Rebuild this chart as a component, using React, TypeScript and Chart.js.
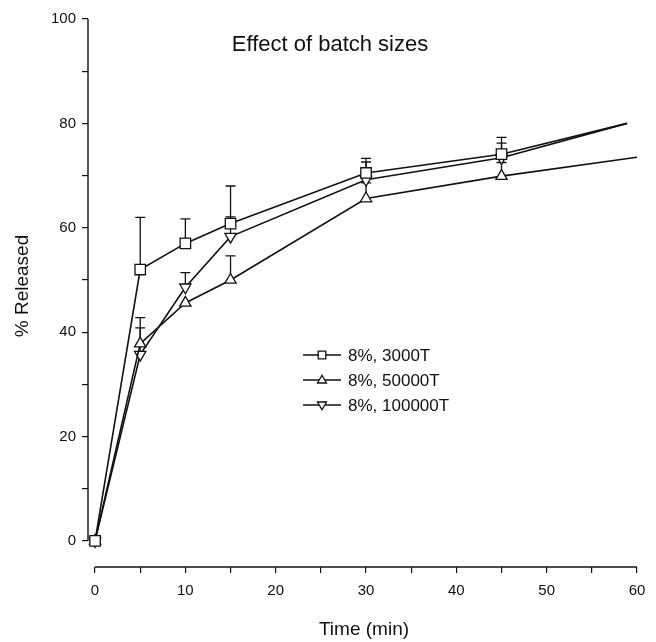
import React, { useEffect, useRef } from 'react';
import { Chart, registerables } from 'chart.js';

Chart.register(...registerables);

// ---- data ----
const chartTitle = 'Effect of batch sizes';
const xAxisTitle = 'Time (min)';
const yAxisTitle = '% Released';

const seriesNames = ['8%, 3000T', '8%, 50000T', '8%, 100000T'];

const s1Time = [0, 5, 10, 15, 30, 45, 58.9];
const s1Value = [0, 52.0, 57.0, 60.8, 70.5, 74.1, 80.0];
const s1Err = [0, 10.0, 4.7, 7.2, 2.8, 3.2, 0];

const s2Time = [0, 5, 10, 15, 30, 45, 60];
const s2Value = [0, 37.8, 45.6, 50.0, 65.6, 69.9, 73.5];
const s2Err = [0, 5.0, 0, 4.6, 3.0, 2.6, 0];

const s3Time = [0, 5, 10, 15, 30, 45, 58.9];
const s3Value = [0, 35.7, 48.6, 58.3, 69.2, 73.4, 80.0];
const s3Err = [0, 5.1, 2.8, 3.8, 3.4, 2.8, 0];

const xTicks = [0, 5, 10, 15, 20, 25, 30, 35, 40, 45, 50, 55, 60];
const yTicks = [0, 10, 20, 30, 40, 50, 60, 70, 80, 90, 100];

const FONT = "'Liberation Sans', Arial, Helvetica, sans-serif";
const INK = '#111';

const W = 656;
const H = 642;

const toPoints = (xs: number[], ys: number[]) => xs.map((x, i) => ({ x, y: ys[i] }));
const markerRadius = (n: number, r: number) => Array.from({ length: n }, (_, i) => (i === n - 1 ? 0 : r));

function drawMarker(ctx: CanvasRenderingContext2D, kind: string, x: number, y: number, s: number) {
  ctx.beginPath();
  if (kind === 'rect') {
    ctx.rect(x - s, y - s, 2 * s, 2 * s);
  } else if (kind === 'up') {
    ctx.moveTo(x, y - s * 1.1);
    ctx.lineTo(x + s * 1.05, y + s * 0.7);
    ctx.lineTo(x - s * 1.05, y + s * 0.7);
    ctx.closePath();
  } else {
    ctx.moveTo(x, y + s * 1.1);
    ctx.lineTo(x + s * 1.05, y - s * 0.7);
    ctx.lineTo(x - s * 1.05, y - s * 0.7);
    ctx.closePath();
  }
  ctx.fillStyle = '#fff';
  ctx.fill();
  ctx.strokeStyle = INK;
  ctx.lineWidth = 1.3;
  ctx.stroke();
}

const errorBarPlugin = {
  id: 'errorBars',
  beforeDatasetsDraw(chart: any) {
    const { ctx } = chart;
    const xs = chart.scales.x;
    const ys = chart.scales.y;
    const errs = [s1Err, s2Err, s3Err];
    ctx.save();
    ctx.strokeStyle = INK;
    ctx.lineWidth = 1.3;
    chart.data.datasets.forEach((ds: any, i: number) => {
      ds.data.forEach((p: any, j: number) => {
        const e = errs[i][j];
        if (!e) return;
        const px = xs.getPixelForValue(p.x);
        const y0 = ys.getPixelForValue(p.y);
        const y1 = ys.getPixelForValue(p.y + e);
        ctx.beginPath();
        ctx.moveTo(px, y0);
        ctx.lineTo(px, y1);
        ctx.moveTo(px - 5, y1);
        ctx.lineTo(px + 5, y1);
        ctx.stroke();
      });
    });
    ctx.restore();
  },
};

const decorPlugin = {
  id: 'decor',
  afterDraw(chart: any) {
    const { ctx, chartArea } = chart;
    const xs = chart.scales.x;
    const ys = chart.scales.y;
    ctx.save();
    // axis lines (offset, SigmaPlot style)
    ctx.strokeStyle = INK;
    ctx.lineWidth = 1.4;
    ctx.beginPath();
    ctx.moveTo(chartArea.left, ys.getPixelForValue(0));
    ctx.lineTo(chartArea.left, ys.getPixelForValue(100));
    ctx.moveTo(xs.getPixelForValue(0), chartArea.bottom);
    ctx.lineTo(xs.getPixelForValue(60), chartArea.bottom);
    ctx.stroke();

    // title
    ctx.fillStyle = INK;
    ctx.font = `22px ${FONT}`;
    ctx.textAlign = 'center';
    ctx.textBaseline = 'middle';
    ctx.fillText(chartTitle, 330, 45);

    // x axis title
    ctx.font = `19px ${FONT}`;
    ctx.fillText(xAxisTitle, 364, 630);

    // y axis title
    ctx.save();
    ctx.translate(23, 286);
    ctx.rotate(-Math.PI / 2);
    ctx.fillText(yAxisTitle, 0, 0);
    ctx.restore();

    // legend
    const kinds = ['rect', 'up', 'down'];
    const rows = [355, 380, 405];
    ctx.font = `17px ${FONT}`;
    ctx.textAlign = 'left';
    rows.forEach((ry, i) => {
      ctx.strokeStyle = INK;
      ctx.lineWidth = 1.3;
      ctx.beginPath();
      ctx.moveTo(303, ry);
      ctx.lineTo(341, ry);
      ctx.stroke();
      drawMarker(ctx, kinds[i], 322, ry, kinds[i] === 'rect' ? 3.8 : 4.3);
      ctx.fillStyle = INK;
      ctx.fillText(seriesNames[i], 348, ry + 1);
    });
    ctx.restore();
  },
};

const zeroPad = (scale: any) => {
  scale.paddingLeft = 0;
  scale.paddingRight = 0;
  scale.paddingTop = 0;
  scale.paddingBottom = 0;
};

export default function App() {
  const ref = useRef<HTMLCanvasElement | null>(null);

  useEffect(() => {
    document.body.style.margin = '0';
    document.body.style.overflow = 'hidden';
    if (!ref.current) return;
    Chart.defaults.font.family = FONT;
    Chart.defaults.color = INK;

    const common = {
      borderColor: INK,
      borderWidth: 1.6,
      pointBackgroundColor: '#fff',
      pointBorderColor: INK,
      pointBorderWidth: 1.3,
      tension: 0,
      fill: false,
    };

    const chart = new Chart(ref.current, {
      type: 'line',
      data: {
        datasets: [
          {
            ...common,
            label: seriesNames[0],
            data: toPoints(s1Time, s1Value),
            pointStyle: 'rect',
            pointRadius: markerRadius(s1Time.length, 7.4),
          },
          {
            ...common,
            label: seriesNames[1],
            data: toPoints(s2Time, s2Value),
            pointStyle: 'triangle',
            pointRadius: markerRadius(s2Time.length, 6.5),
          },
          {
            ...common,
            label: seriesNames[2],
            data: toPoints(s3Time, s3Value),
            pointStyle: 'triangle',
            pointRotation: 180,
            pointRadius: markerRadius(s3Time.length, 6.5),
          },
        ],
      } as any,
      plugins: [errorBarPlugin, decorPlugin],
      options: {
        animation: false,
        responsive: false,
        events: [],
        layout: { padding: { top: 19, right: 19, left: 0, bottom: 0 } },
        plugins: {
          legend: { display: false },
          tooltip: { enabled: false },
          title: { display: false },
        },
        scales: {
          x: {
            type: 'linear',
            min: -0.78,
            max: 60,
            afterBuildTicks: (scale: any) => {
              scale.ticks = xTicks.map((v) => ({ value: v }));
            },
            afterFit: (scale: any) => {
              scale.height = 75;
              zeroPad(scale);
            },
            ticks: {
              autoSkip: false,
              maxRotation: 0,
              padding: 9,
              font: { size: 15 },
              color: INK,
              callback: (v: any) => (Number(v) % 10 === 0 ? String(v) : ''),
            },
            grid: {
              display: true,
              drawOnChartArea: false,
              drawTicks: true,
              tickLength: 6,
              color: INK,
              lineWidth: 1.2,
            },
            border: { display: false },
          },
          y: {
            type: 'linear',
            min: -5,
            max: 100,
            afterBuildTicks: (scale: any) => {
              scale.ticks = yTicks.map((v) => ({ value: v }));
            },
            afterFit: (scale: any) => {
              scale.width = 88;
              zeroPad(scale);
            },
            ticks: {
              autoSkip: false,
              padding: 6,
              font: { size: 15 },
              color: INK,
              callback: (v: any) => (Number(v) % 20 === 0 ? String(v) : ''),
            },
            grid: {
              display: true,
              drawOnChartArea: false,
              drawTicks: true,
              tickLength: 6,
              color: INK,
              lineWidth: 1.2,
            },
            border: { display: false },
          },
        },
      } as any,
    });

    return () => chart.destroy();
  }, []);

  return (
    <div style={{ width: W, height: H }}>
      <canvas ref={ref} width={W} height={H} style={{ display: 'block', width: W, height: H }} />
    </div>
  );
}
